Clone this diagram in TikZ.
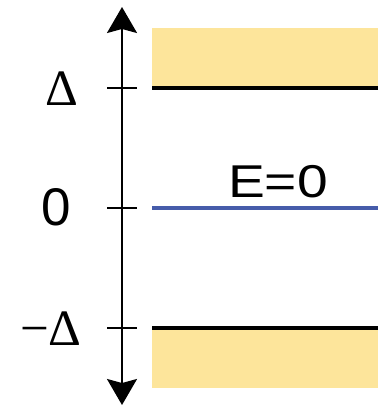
\documentclass[tikz,border=0pt]{standalone}
\usepackage{fontspec}
\setmainfont{Liberation Sans}
\newfontfamily\symfont{Liberation Serif}
\usetikzlibrary{arrows.meta, positioning}
\definecolor{gapyellow}{RGB}{253,229,155}
\definecolor{fermiblue}{RGB}{70,92,170}

\begin{document}
\begin{tikzpicture}[x=1pt, y=-1pt]
    \useasboundingbox (0,0) rectangle (378,406);
    % bands
    \fill[gapyellow] (152,28) rectangle (378,88);
    \fill[gapyellow] (152,328) rectangle (378,388);
    % energy axis
    \coordinate (top) at (122,7);
    \coordinate (bot) at (122,405);
    \draw[line width=2pt, {Stealth[length=26pt,width=30pt,inset=4pt]}-{Stealth[length=26pt,width=30pt,inset=4pt]}] (bot) -- (top);
    \foreach \y in {88, 208, 328} {
        \draw[line width=1.8pt] (107,\y) -- (137,\y);
    }
    % levels
    \draw[line width=4pt] (152,88) -- (378,88);
    \draw[line width=4pt] (152,328) -- (378,328);
    \draw[line width=4pt, fermiblue] (152,208) -- (378,208);
    % labels
    \node[font=\symfont\fontsize{51}{54}\selectfont, inner sep=0pt] (delta) at (61.5,89) {Δ};
    \node[font=\fontsize{53}{56}\selectfont, inner sep=0pt] (zero) at (56,207.5) {0};
    \node[font=\symfont\fontsize{51}{54}\selectfont, inner sep=0pt] (mdelta) at (51,329) {−Δ};
    \node[font=\fontsize{46}{49}\selectfont, inner sep=0pt, anchor=base, xscale=1.2] (ezero) at (278,197) {E=0};
\end{tikzpicture}
\end{document}
